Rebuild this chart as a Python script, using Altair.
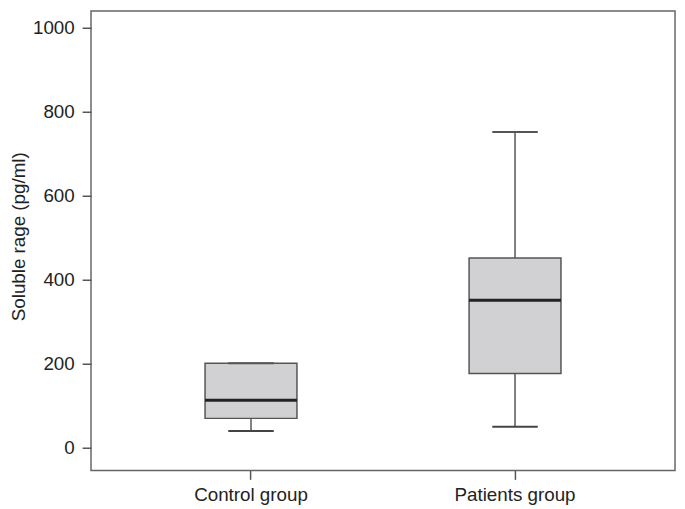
import altair as alt
import pandas as pd

groups = ["Control group", "Patients group"]
lower_whisker = [39, 49]
q1 = [69, 176]
median = [112, 350]
q3 = [200, 451]
upper_whisker = [200, 751]

df = pd.DataFrame({
    "group": groups,
    "lo": lower_whisker,
    "q1": q1,
    "med": median,
    "q3": q3,
    "hi": upper_whisker,
})

FONT = "Liberation Sans"
W, H = 591, 465

x = alt.X("group:N", title=None,
          scale=alt.Scale(paddingInner=0.5, paddingOuter=0.356),
          axis=alt.Axis(labelAngle=0, labelFontSize=19, labelFont=FONT,
                        labelColor="#222", tickColor="#555", tickSize=9,
                        tickWidth=1.5, labelPadding=6, domain=False))
yscale = alt.Scale(domain=[-55, 1039], nice=False, zero=False)
yaxis = alt.Axis(values=[0, 200, 400, 600, 800, 1000], format="d", grid=False, domain=False,
                 labelFontSize=19, labelFont=FONT, labelColor="#222",
                 tickColor="#555", tickSize=9, tickWidth=1.5, labelPadding=8,
                 title="Soluble rage (pg/ml)", titleFont=FONT, titleFontSize=19,
                 titleFontWeight="normal", titleColor="#222",
                 titleX=-73, titleY=228, titleAngle=-90,
                 titleAlign="center", titleBaseline="middle")

base = alt.Chart(df)

whisk = base.mark_rule(color="#555", strokeWidth=1.5).encode(
    x=x, y=alt.Y("lo:Q", scale=yscale, axis=yaxis), y2="hi:Q")
cap_lo = base.mark_tick(color="#444", opacity=1, size=46, thickness=2, orient="horizontal").encode(
    x=x, y=alt.Y("lo:Q", scale=yscale))
cap_hi = base.mark_tick(color="#555", opacity=1, size=46, thickness=2, orient="horizontal").encode(
    x=x, y=alt.Y("hi:Q", scale=yscale))
box = base.mark_bar(size=93, fill="#d1d1d3", stroke="#555", strokeWidth=1.5).encode(
    x=x, y=alt.Y("q1:Q", scale=yscale), y2="q3:Q")
med = base.mark_tick(color="#222", opacity=1, size=93, thickness=3, orient="horizontal").encode(
    x=x, y=alt.Y("med:Q", scale=yscale))

chart = alt.layer(whisk, box, cap_lo, cap_hi, med).properties(
    width=W, height=H,
    autosize=alt.AutoSizeParams(type="none"),
    padding={"left": 84, "top": 0, "right": 2, "bottom": 36},
).configure_view(stroke="#666", strokeWidth=1.5)

chart.save("out.html", embed_options={"renderer": "svg", "actions": False})
